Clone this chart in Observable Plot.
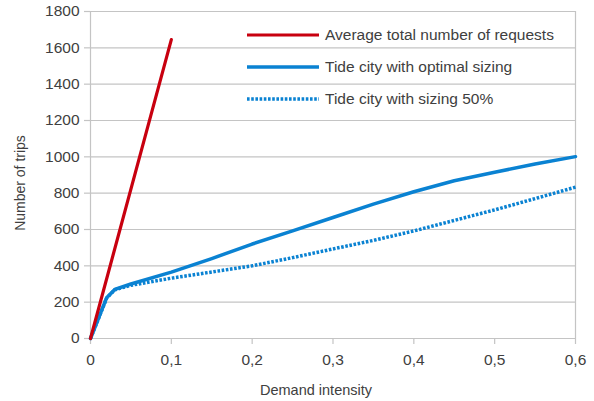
<!DOCTYPE html>
<html>
<head>
<meta charset="utf-8">
<script src="https://cdn.jsdelivr.net/npm/d3@7"></script>
<script src="https://cdn.jsdelivr.net/npm/@observablehq/plot@0.6"></script>
<style>
  html, body { margin: 0; padding: 0; background: #fff; }
  #wrap { position: relative; width: 594px; height: 401px; font-family: "Liberation Sans", Arial, sans-serif; color: #404040; }
  .lab { position: absolute; white-space: nowrap; color: #404040; line-height: 1; }
  #legend { position: absolute; left: 247px; top: 19px; font-size: 15.5px; }
  #legend .row { display: flex; align-items: center; height: 32px; }
  #legend svg { margin-right: 6px; }
</style>
</head>
<body>
<div id="wrap">
  <div id="chart"></div>
  <div id="legend"></div>
  <div class="lab" id="xt" style="left:316px; top:390px; font-size:14.5px; transform: translate(-50%,-50%);">Demand intensity</div>
  <div class="lab" id="yt" style="left:20px; top:183px; font-size:14px; transform: translate(-50%,-50%) rotate(-90deg);">Number of trips</div>
</div>
<script>
// ---- data ----
const seriesNames = ["Average total number of requests", "Tide city with optimal sizing", "Tide city with sizing 50%"];

const requestsX = [0, 0.1];
const requestsY = [0, 1645];

const optimalX = [0, 0.02, 0.03, 0.05, 0.1, 0.15, 0.2, 0.25, 0.3, 0.35, 0.4, 0.45, 0.5, 0.55, 0.6];
const optimalY = [0, 225, 270, 300, 365, 440, 520, 592, 666, 740, 808, 868, 915, 961, 1001];

const halfX = [0, 0.02, 0.03, 0.05, 0.1, 0.15, 0.2, 0.25, 0.3, 0.35, 0.4, 0.45, 0.5, 0.55, 0.6];
const halfY = [0, 222, 268, 293, 332, 366, 400, 445, 493, 540, 592, 650, 708, 770, 833];

const xTicks = [0, 0.1, 0.2, 0.3, 0.4, 0.5, 0.6];
const yTicks = [0, 200, 400, 600, 800, 1000, 1200, 1400, 1600, 1800];

// ---- build ----
const toRows = (xs, ys) => xs.map((x, i) => ({x, y: ys[i]}));
const red = "#c8000f";
const blue = "#0a82d2";
const grid = "#c4c4c4";
const dash = "2.6,1.6";

const fmtX = d => String(d).replace(".", ",");
const fmtY = d => String(d);

const chart = Plot.plot({
  width: 594,
  height: 401,
  marginLeft: 90,
  marginRight: 19,
  marginTop: 11,
  marginBottom: 63,
  style: {fontFamily: '"Liberation Sans", Arial, sans-serif', fontSize: "15px", color: "#404040", background: "white"},
  x: {domain: [0, 0.6]},
  y: {domain: [0, 1800]},
  marks: [
    Plot.gridY(yTicks, {stroke: grid, strokeOpacity: 1, strokeWidth: 1.2}),
    Plot.ruleX([0, 0.6], {stroke: grid, strokeWidth: 1.2}),
    Plot.axisY(yTicks, {tickSize: 6, tickPadding: 5, stroke: grid, strokeWidth: 1.2, tickFormat: fmtY, label: null, fill: "#404040", fontSize: 15.5}),
    Plot.axisX(xTicks, {tickSize: 6, tickPadding: 9, stroke: grid, strokeWidth: 1.2, tickFormat: fmtX, label: null, fill: "#404040", fontSize: 15.5}),
    Plot.line(toRows(halfX, halfY), {x: "x", y: "y", stroke: blue, strokeWidth: 3.5, strokeDasharray: dash, strokeLinecap: "butt", curve: "linear"}),
    Plot.line(toRows(optimalX, optimalY), {x: "x", y: "y", stroke: blue, strokeWidth: 3.5, curve: "linear"}),
    Plot.line(toRows(requestsX, requestsY), {x: "x", y: "y", stroke: red, strokeWidth: 3.2})
  ]
});
document.getElementById("chart").appendChild(chart);

// ---- legend ----
const styles = [
  {stroke: red, dash: null, w: 3.2},
  {stroke: blue, dash: null, w: 3.5},
  {stroke: blue, dash: dash, w: 3.5}
];
const legend = document.getElementById("legend");
seriesNames.forEach((name, i) => {
  const row = document.createElement("div");
  row.className = "row";
  const s = styles[i];
  row.innerHTML = `<svg width="72" height="8"><line x1="0" x2="72" y1="4" y2="4" stroke="${s.stroke}" stroke-width="${s.w}" ${s.dash ? `stroke-dasharray="${s.dash}"` : ""}/></svg><span>${name}</span>`;
  legend.appendChild(row);
});
</script>
</body>
</html>
